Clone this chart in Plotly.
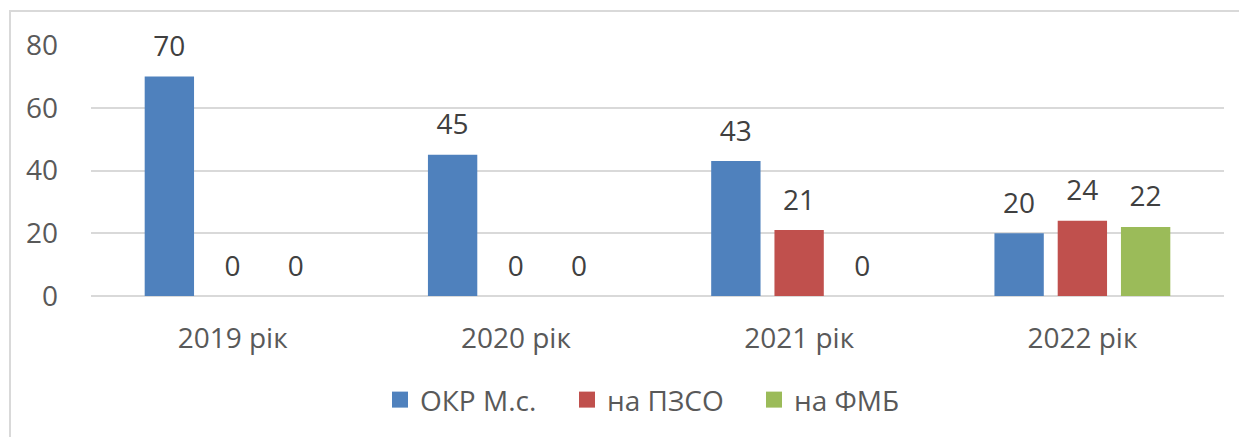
import plotly.graph_objects as go

categories = ["2019 рік", "2020 рік", "2021 рік", "2022 рік"]
series_names = ["ОКР М.с.", "на ПЗСО", "на ФМБ"]
okr = [70, 45, 43, 20]
pzso = [0, 0, 21, 24]
fmb = [0, 0, 0, 22]
colors = ["#4F81BD", "#C0504D", "#9BBB59"]
groups = ["g1", "g2", "g3"]

FONT = "Open Sans, sans-serif"
FS = 28

fig = go.Figure()
for name, vals, col, g in zip(series_names, [okr, pzso, fmb], colors, groups):
    fig.add_trace(go.Bar(
        x=categories, y=vals, name=name, showlegend=False,
        offsetgroup=g, alignmentgroup="a",
        marker=dict(color=col, line=dict(width=0)),
        hoverinfo="skip",
    ))
# value labels, grouped like the bars
for name, vals, col, g in zip(series_names, [okr, pzso, fmb], colors, groups):
    fig.add_trace(go.Scatter(
        x=categories, y=vals, name=name, orientation="v",
        offsetgroup=g, alignmentgroup="a",
        mode="markers+text", text=[str(v) for v in vals], textposition="top center",
        marker=dict(size=20, opacity=0, color=col),
        textfont=dict(size=FS, color="#404040", family=FONT),
        cliponaxis=False, showlegend=False, hoverinfo="skip",
    ))
# legend entries
for name, col in zip(series_names, colors):
    fig.add_trace(go.Scatter(
        x=[None], y=[None], name=name, mode="markers",
        marker=dict(symbol="square", size=18, color=col),
    ))

fig.update_layout(
    width=1239, height=429,
    margin=dict(l=83, r=23, t=37, b=141),
    paper_bgcolor="white", plot_bgcolor="white",
    barmode="group", bargap=0.33, bargroupgap=0.22,
    scattermode="group", scattergap=0.33,
    font=dict(family=FONT, color="#595959"),
    showlegend=True,
    legend=dict(orientation="h", x=(380 - 91) / 1133, xanchor="left", y=-0.414, yanchor="middle",
                font=dict(size=FS, color="#595959", family=FONT),
                entrywidth=142, entrywidthmode="pixels",
                itemsizing="trace", traceorder="normal"),
    xaxis=dict(showgrid=False, showline=False, ticks="",
               tickfont=dict(size=FS, color="#595959", family=FONT),
               ticklabelstandoff=23),
    yaxis=dict(range=[0, 80], tickvals=[0, 20, 40, 60, 80], showgrid=True,
               gridcolor="#D9D9D9", gridwidth=2, zeroline=True, zerolinecolor="#D9D9D9",
               zerolinewidth=2, showline=False, ticks="",
               tickfont=dict(size=FS, color="#595959", family=FONT),
               ticklabelstandoff=32),
    shapes=[dict(type="rect", xref="paper", yref="paper",
                 x0=(10 - 91) / 1133, x1=1.2, y0=-1.0, y1=1 + (45 - 11) / 251,
                 line=dict(color="#D9D9D9", width=2), layer="below")],
)

fig.write_html("out.html")
